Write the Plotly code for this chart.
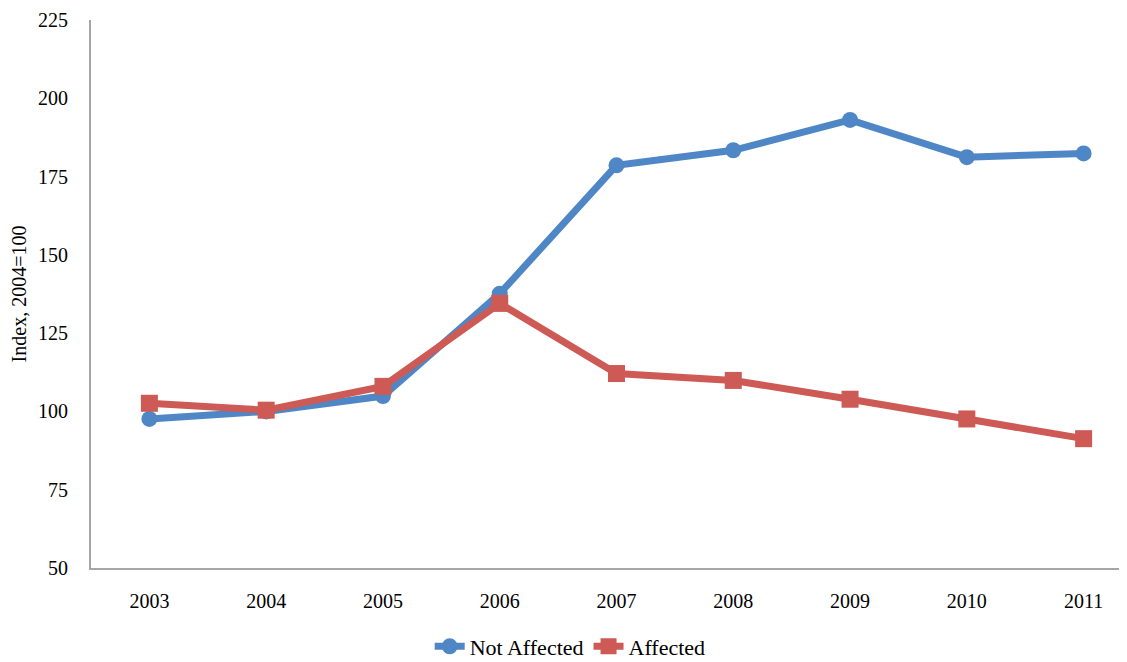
import plotly.graph_objects as go

years = ["2003", "2004", "2005", "2006", "2007", "2008", "2009", "2010", "2011"]
not_affected = [97.6, 100.0, 104.9, 137.6, 178.6, 183.4, 193.1, 181.2, 182.4]
affected = [102.6, 100.4, 108.0, 134.5, 112.1, 109.9, 103.9, 97.6, 91.3]
y_ticks = [50, 75, 100, 125, 150, 175, 200, 225]

fig = go.Figure()
fig.add_trace(go.Scatter(
    x=years, y=not_affected, name="Not Affected", mode="lines+markers",
    line=dict(color="#4F86C6", width=7),
    marker=dict(symbol="circle", size=16, color="#4F86C6"),
))
fig.add_trace(go.Scatter(
    x=years, y=affected, name="Affected", mode="lines+markers",
    line=dict(color="#CD5A55", width=7),
    marker=dict(symbol="square", size=17, color="#CD5A55"),
))

fig.update_layout(
    width=1127, height=662,
    margin=dict(l=83, r=0, t=12, b=102),
    paper_bgcolor="white", plot_bgcolor="white",
    font=dict(family="Liberation Serif", size=20, color="black"),
    showlegend=True,
    legend=dict(orientation="h", x=0.459, xanchor="center", y=-0.105, yanchor="top",
                font=dict(size=22), tracegroupgap=0),
    xaxis=dict(type="category", range=[-0.5, 8.44], showgrid=False,
               showline=True, linecolor="#A6A6A6", linewidth=2,
               ticks="", ticklabelstandoff=14, zeroline=False),
    yaxis=dict(range=[50, 225], tickvals=y_ticks, showgrid=False,
               showline=True, linecolor="#A6A6A6", linewidth=2,
               ticks="", ticklabelstandoff=17, zeroline=False,
               ticklabeloverflow="allow", automargin=False,
               title=dict(text="Index, 2004=100", font=dict(size=20), standoff=10)),
)

fig.write_html("out.html")
